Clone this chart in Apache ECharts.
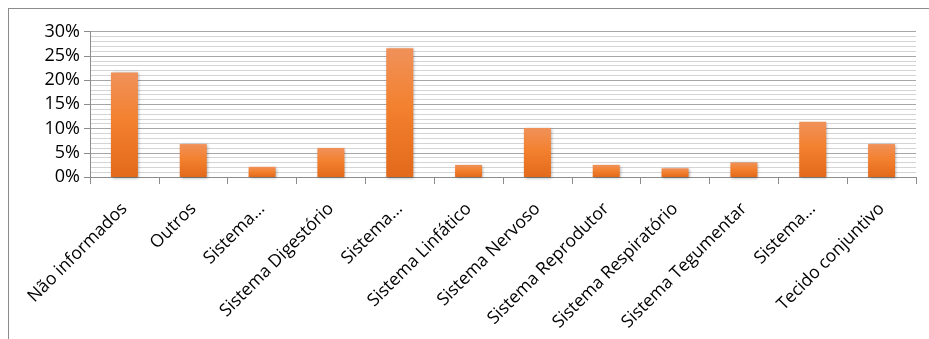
<!DOCTYPE html>
<html><head><meta charset="utf-8">
<script src="https://cdn.jsdelivr.net/npm/echarts@6/dist/echarts.min.js"></script>
<style>html,body{margin:0;padding:0;background:#fff;overflow:hidden;}#c{width:929px;height:339px;position:relative;}</style>
</head><body><div id="c"></div><div id="frame" style="position:absolute;left:8px;top:8px;width:930px;height:340px;border:1px solid #8c8c8c;pointer-events:none;"></div>
<script>
const categories = ["Não informados","Outros","Sistema...","Sistema Digestório","Sistema...","Sistema Linfático","Sistema Nervoso","Sistema Reprodutor","Sistema Respiratório","Sistema Tegumentar","Sistema...","Tecido conjuntivo"];
const values = [0.216,0.068,0.021,0.060,0.266,0.025,0.101,0.025,0.018,0.030,0.114,0.068];
const yTicks = {min:0, max:0.30, interval:0.05};
const chart = echarts.init(document.getElementById('c'), null, {renderer:'canvas'});
const font = "'Open Sans', sans-serif";
chart.setOption({
  animation:false,
  grid:{left:90, right:13, top:31.7, bottom:162, containLabel:false},
  xAxis:{type:'category', data:categories,
    axisLine:{lineStyle:{color:'#8c8c8c'}},
    axisTick:{show:true, length:7, lineStyle:{color:'#8c8c8c'}},
    axisLabel:{interval:0, rotate:45, color:'#000', fontFamily:font, fontSize:17.5, margin:29}},
  yAxis:{type:'value', min:yTicks.min, max:yTicks.max, interval:yTicks.interval,
    axisLine:{show:true, lineStyle:{color:'#8c8c8c'}},
    axisTick:{show:true, length:6, lineStyle:{color:'#8c8c8c'}},
    axisLabel:{color:'#000', fontFamily:font, fontSize:18, margin:10, formatter:v=>Math.round(v*100)+'%'},
    splitLine:{show:true, lineStyle:{color:'#a6a6a6', width:1}},
    minorTick:{show:false, splitNumber:5},
    minorSplitLine:{show:true, lineStyle:{color:'#d4d4d4', width:1}}},
  series:[{type:'bar', data:values, barWidth:27,
    itemStyle:{color:new echarts.graphic.LinearGradient(0,0,0,1,[{offset:0,color:'#f0915a'},{offset:0.45,color:'#f3812f'},{offset:1,color:'#e3691b'}]),
      shadowColor:'rgba(0,0,0,0.35)', shadowBlur:3, shadowOffsetX:1, shadowOffsetY:1}}]
});
</script></body></html>
